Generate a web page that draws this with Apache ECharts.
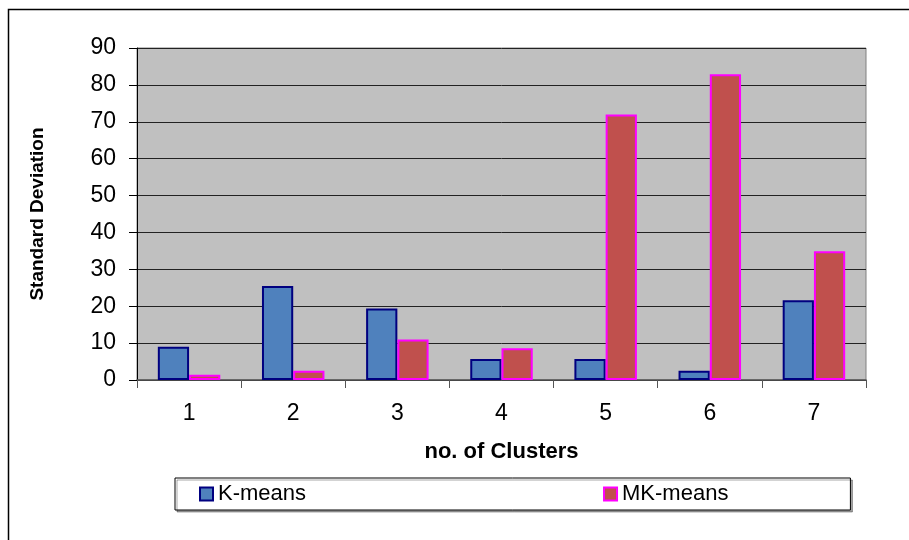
<!DOCTYPE html>
<html>
<head>
<meta charset="utf-8">
<script src="https://cdn.jsdelivr.net/npm/echarts@6/dist/echarts.min.js"></script>
<style>
  html, body { margin: 0; padding: 0; background: #fff; }
  #main { width: 909px; height: 540px; }
</style>
</head>
<body>
<div id="main"></div>
<script>
// data
var clusters = ['1', '2', '3', '4', '5', '6', '7'];
var kmeans = [9, 25.5, 19.4, 5.7, 5.7, 2.5, 21.6];
var mkmeans = [1.4, 2.5, 11, 8.6, 72, 82.9, 34.9];
var yTicks = { min: 0, max: 90, interval: 10 };

var font = 'Liberation Sans, Arial, sans-serif';

var chart = echarts.init(document.getElementById('main'));
chart.setOption({
  animation: false,
  textStyle: { fontFamily: font },
  // outer chart frame (runs off the right and bottom edges)
  graphic: [{
    type: 'rect',
    shape: { x: 8.5, y: 9.5, width: 1000, height: 1000 },
    style: { fill: 'none', stroke: '#000', lineWidth: 1.5 },
    silent: true
  }],
  grid: {
    left: 137, top: 48, right: 43, bottom: 160,
    show: true, backgroundColor: '#c0c0c0', borderColor: '#808080', borderWidth: 1
  },
  legend: {
    left: 175, top: 478,
    padding: [5, 122, 5, 24],
    itemGap: 297,
    icon: 'rect',
    itemWidth: 13, itemHeight: 13,
    backgroundColor: '#fff',
    borderColor: '#000', borderWidth: 1,
    shadowColor: 'rgba(0,0,0,0.35)', shadowOffsetX: 2, shadowOffsetY: 2,
    textStyle: { fontFamily: font, fontSize: 22, color: '#000' },
    data: ['K-means', 'MK-means']
  },
  xAxis: {
    type: 'category',
    data: clusters,
    name: 'no. of Clusters',
    nameLocation: 'middle',
    nameGap: 61,
    nameTextStyle: { fontFamily: font, fontSize: 22, fontWeight: 'bold', color: '#000' },
    axisLine: { lineStyle: { color: '#555', width: 1.5 } },
    axisTick: { show: true, length: 8, lineStyle: { color: '#555' } },
    axisLabel: { fontFamily: font, fontSize: 23, color: '#000', margin: 22 }
  },
  yAxis: {
    type: 'value',
    min: yTicks.min, max: yTicks.max, interval: yTicks.interval,
    name: 'Standard Deviation',
    nameLocation: 'middle',
    nameGap: 90,
    nameRotate: 90,
    nameTextStyle: { fontFamily: font, fontSize: 19, fontWeight: 'bold', color: '#000' },
    axisLine: { show: true, lineStyle: { color: '#000', width: 1 } },
    axisTick: { show: true, length: 8, lineStyle: { color: '#000' } },
    axisLabel: { fontFamily: font, fontSize: 23, color: '#000', margin: 21 },
    splitLine: { lineStyle: { color: '#222', width: 1 } }
  },
  series: [{
    name: 'K-means',
    type: 'bar',
    data: kmeans,
    barWidth: '30%',
    barGap: '0%',
    itemStyle: { color: '#4f81bd', borderColor: '#000080', borderWidth: 2 }
  }, {
    name: 'MK-means',
    type: 'bar',
    data: mkmeans,
    barWidth: '30%',
    itemStyle: { color: '#c0504d', borderColor: '#ff00ff', borderWidth: 2 }
  }]
});
</script>
</body>
</html>
